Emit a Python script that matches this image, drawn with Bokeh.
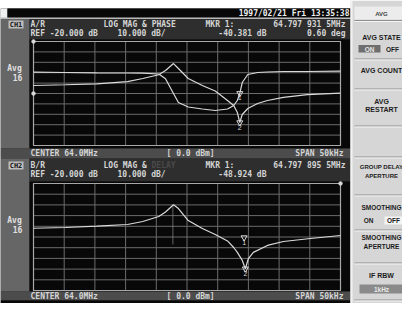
from bokeh.plotting import figure
from bokeh.models import Range1d, BoxAnnotation, Label
from bokeh.embed import file_html
from bokeh.resources import INLINE

# ---------------- data ----------------
CENTER_MHZ = 64.0
SPAN_MHZ = 0.05
REF_DB = -20.0
DB_PER_DIV = 10.0
DEG_PER_DIV = 45.0
N_DIV = 10

ch1_freq_mhz = [63.9750, 63.9802, 63.9853, 63.9903, 63.9928, 63.9954, 63.9965, 63.9978,
                63.9986, 64.0002, 64.0025, 64.0046, 64.0066, 64.0076, 64.0082, 64.0086,
                64.0090, 64.0099, 64.0115, 64.0131, 64.0157, 64.0196, 64.0250]
ch1_mag_db = [-12.3, -11.6, -10.7, -8.5, -5.6, -2.0, 2.1, 8.8, 4.0, -5.6, -12.3, -17.6,
              -26.7, -31.5, -38.3, -47.9, -40.2, -34.4, -29.6, -26.7, -23.8, -21.0, -19.7]
ch1_phase_deg = [92.2, 90.9, 89.6, 88.7, 88.3, 84.4, 63.6, 0.0, -38.9, -58.4, -67.1, -73.6,
                 -67.1, -51.9, -30.3, 0.6, 47.6, 82.2, 90.9, 93.0, 95.2, 95.2, 96.5]

ch2_freq_mhz = [63.9750, 63.9802, 63.9853, 63.9903, 63.9928, 63.9954, 63.9965, 63.9978,
                63.9986, 64.0002, 64.0025, 64.0046, 64.0066, 64.0076, 64.0082, 64.0090,
                64.0095, 64.0100, 64.0108, 64.0131, 64.0157, 64.0201, 64.0250]
ch2_mag_db = [-11.8, -11.1, -9.9, -8.3, -5.5, -0.8, 3.4, 10.1, 6.6, -4.6, -12.1, -17.7,
              -23.7, -29.8, -34.4, -41.9, -49.7, -40.1, -34.4, -27.9, -24.2, -21.4, -18.6]
ch2_aux_freq_mhz = [63.9977, 63.9977]
ch2_aux_db = [9.0, -27.0]

ch1_mkr_freq = [64.0086, 64.0086]
ch1_mkr_phase = [0.6]
ch1_mkr_mag = [-47.9]
ch2_mkr_freq = [64.0093, 64.0095]
ch2_mkr_db = [-20.5, -49.7]

date_text = "1997/02/21 Fri 13:35:38"
ch1_head = ["CH1", "A/R", "LOG MAG & PHASE", "MKR 1:", "64.797 931 5MHz"]
ch1_head2 = ["REF -20.000 dB", "10.000 dB/", "-40.381 dB", "0.60 deg"]
ch2_head = ["CH2", "B/R", "LOG MAG &", "MKR 1:", "64.797 895 5MHz"]
ch2_head2 = ["REF -20.000 dB", "10.000 dB/", "-48.924 dB"]
foot = ["CENTER 64.0MHz", "[ 0.0 dBm]", "SPAN 50kHz"]

# ---------------- page geometry (picture pixels) ----------------
W, H = 402, 303
X0, X1, PY0, PY1 = 0, 402, 0, 303


def Y(py):
    return PY1 - py


p = figure(width=W, height=H, x_range=Range1d(X0, X1), y_range=Range1d(PY0, PY1),
           toolbar_location=None, output_backend="svg", min_border=0,
           x_axis_location=None, y_axis_location=None,
           background_fill_color="#ffffff", border_fill_color="#ffffff",
           outline_line_color=None)
p.grid.visible = False

PLOT_L, PLOT_R = 33, 340
f0 = CENTER_MHZ - SPAN_MHZ / 2
f1 = CENTER_MHZ + SPAN_MHZ / 2
kx = (f1 - f0) / (PLOT_R - PLOT_L)
p.extra_x_ranges = {"f": Range1d(f0 - (PLOT_L - X0) * kx, f1 + (X1 - PLOT_R) * kx)}


def yr(py_top, py_bot, v_top, v_bot):
    k = (v_top - v_bot) / (py_bot - py_top)
    return Range1d(v_bot - (PY1 - py_bot) * k, v_top + (py_top - PY0) * k)


mag_top = REF_DB + 5 * DB_PER_DIV
mag_bot = REF_DB - 5 * DB_PER_DIV
ph_top = 5 * DEG_PER_DIV
ph_bot = -5 * DEG_PER_DIV
p.extra_y_ranges = {
    "m1": yr(41, 145, mag_top, mag_bot),
    "p1": yr(41, 145, ph_top, ph_bot),
    "m2": yr(183, 290, mag_top, mag_bot),
}


def box(l, r, t, b, color):
    p.add_layout(BoxAnnotation(left=l, right=r, top=Y(t), bottom=Y(b), fill_color=color,
                               fill_alpha=1, line_color=None, level="underlay"))


MONO = "DejaVu Sans Mono"
SANS = "Liberation Sans"
SCR = "#d4d4d4"
KEY = "#1c1c1c"


def txt(x, py, s, color=SCR, size="8px", align="left", font=MONO):
    p.add_layout(Label(x=x, y=Y(py), text=s, text_color=color, text_font_size=size,
                       text_align=align, text_baseline="middle", text_font=font,
                       text_font_style="bold"))


# screen panels
box(0, 350, 8, 303, "#1e1e1e")
box(0, 7, 8, 18, "#f0f0f0")
box(7, 350, 8, 17, "#080808")
box(0, 350, 17, 18.5, "#b8b8b8")
box(0, 29, 18.5, 148, "#666666")
box(29, 350, 18.5, 39, "#2e2e2e")
box(29, 350, 39, 148, "#080808")
box(0, 350, 148, 158, "#4c4c4c")
box(0, 29, 158, 291, "#666666")
box(29, 350, 158, 181, "#2e2e2e")
box(29, 350, 181, 291, "#080808")
box(0, 350, 291, 300, "#4c4c4c")
box(0, 350, 300, 303, "#080808")
box(8, 23, 20, 28, "#bdbdbd")
box(8, 23, 161, 169, "#bdbdbd")
# softkey panel
box(350, 402, 0, 303, "#d6d6d6")
box(350, 352, 0, 303, "#f2f2f2")
box(354, 402, 6, 19, "#ececec")
for sy in [19.5, 58, 88, 125, 156, 194, 229, 262, 299]:
    box(354, 402, sy, sy + 1, "#8e8e8e")
    box(354, 402, sy + 1, sy + 2, "#f4f4f4")
box(358, 380, 44.5, 52, "#6e6e6e")
box(384, 402, 216, 224, "#f4f4f4")
box(359, 402, 284, 293, "#8a8a8a")

# grids, frames and traces
GRID = "#6c6c6c"
xs_v = [f0 + i * SPAN_MHZ / N_DIV for i in range(N_DIV + 1)]
ys_h = [mag_bot + j * DB_PER_DIV for j in range(N_DIV + 1)]
for rn in ["m1", "m2"]:
    p.segment(x0=xs_v, x1=xs_v, y0=[mag_bot] * len(xs_v), y1=[mag_top] * len(xs_v),
              x_range_name="f", y_range_name=rn, line_color=GRID, line_width=1)
    p.segment(x0=[f0] * len(ys_h), x1=[f1] * len(ys_h), y0=ys_h, y1=ys_h,
              x_range_name="f", y_range_name=rn, line_color=GRID, line_width=1)
    p.quad(left=[f0], right=[f1], bottom=[mag_bot], top=[mag_top], fill_color=None,
           line_color="#a8a8a8", line_width=1.2, x_range_name="f", y_range_name=rn)

TR = "#dadada"
p.line(ch1_freq_mhz, ch1_mag_db, x_range_name="f", y_range_name="m1", line_color=TR, line_width=1.2)
p.line(ch1_freq_mhz, ch1_phase_deg, x_range_name="f", y_range_name="p1", line_color=TR, line_width=1.2)
p.line(ch2_freq_mhz, ch2_mag_db, x_range_name="f", y_range_name="m2", line_color=TR, line_width=1.2)
p.line(ch2_aux_freq_mhz, ch2_aux_db, x_range_name="f", y_range_name="m2", line_color="#8a8a8a",
       line_width=1, line_alpha=0.7)

# reference-position markers
p.scatter([f0], [mag_top], marker="circle", size=3.5, color=TR, x_range_name="f", y_range_name="m1")
p.scatter([f0], [0.0], marker="circle", size=3.5, color=TR, x_range_name="f", y_range_name="p1")
p.scatter([f1], [mag_top], marker="circle", size=3.5, color=TR, x_range_name="f", y_range_name="m2")

# markers
p.scatter(ch1_mkr_freq[:1], ch1_mkr_phase, marker="inverted_triangle", size=6, fill_color=None,
          line_color=TR, x_range_name="f", y_range_name="p1")
p.text(ch1_mkr_freq[:1], ch1_mkr_phase, text=["1"], text_color=TR, text_font_size="7px",
       text_align="center", text_baseline="top", y_offset=2, x_range_name="f", y_range_name="p1")
p.scatter(ch1_mkr_freq[1:], ch1_mkr_mag, marker="inverted_triangle", size=6, fill_color=None,
          line_color=TR, x_range_name="f", y_range_name="m1")
p.text(ch1_mkr_freq[1:], ch1_mkr_mag, text=["2"], text_color=TR, text_font_size="7px",
       text_align="center", text_baseline="top", y_offset=2, x_range_name="f", y_range_name="m1")
p.scatter(ch2_mkr_freq, ch2_mkr_db, marker="inverted_triangle", size=6, fill_color=None,
          line_color=TR, x_range_name="f", y_range_name="m2")
p.text(ch2_mkr_freq, ch2_mkr_db, text=["1", "2"], text_color=TR, text_font_size="7px",
       text_align="center", text_baseline="top", y_offset=2, x_range_name="f", y_range_name="m2")

# screen texts
txt(349, 12.5, date_text, color="#eeeeee", align="right")
for (hd, hd2, y1, y2) in [(ch1_head, ch1_head2, 24, 33), (ch2_head, ch2_head2, 165, 174)]:
    txt(15.5, y1, hd[0], color="#202020", size="7px", align="center")
    txt(30, y1, hd[1])
    txt(103, y1, hd[2])
    txt(205, y1, hd[3])
    txt(345, y1, hd[4], align="right")
    txt(30, y2, hd2[0])
    txt(117, y2, hd2[1])
    txt(266, y2, hd2[2], align="right")
    if len(hd2) > 3:
        txt(345, y2, hd2[3], align="right")
txt(151, 165, "DELAY", color="#4a4a4a")
for yf in [153, 296]:
    txt(30, yf, foot[0])
    txt(166, yf, foot[1])
    txt(343, yf, foot[2], align="right")
for ya in [68, 220]:
    txt(14, ya, "Avg", color="#e2e2e2", size="8px", align="center")
    txt(17, ya + 9, "16", color="#e2e2e2", size="8px", align="center")

# softkey texts
CX = 381
txt(CX, 13, "AVG", color="#444444", size="6px", font=SANS, align="center")
txt(CX, 37, "AVG STATE", color=KEY, size="7px", font=SANS, align="center")
txt(369, 48.5, "ON", color="#e8e8e8", size="6.5px", font=SANS, align="center")
txt(392, 48.5, "OFF", color=KEY, size="6.5px", font=SANS, align="center")
txt(CX, 70, "AVG COUNT", color=KEY, size="7px", font=SANS, align="center")
txt(CX, 101, "AVG", color=KEY, size="7px", font=SANS, align="center")
txt(CX, 109, "RESTART", color=KEY, size="7px", font=SANS, align="center")
txt(CX, 166, "GROUP DELAY", color=KEY, size="6px", font=SANS, align="center")
txt(CX, 175, "APERTURE", color=KEY, size="6px", font=SANS, align="center")
txt(CX, 207, "SMOOTHING", color=KEY, size="6.5px", font=SANS, align="center")
txt(368, 220, "ON", color=KEY, size="6.5px", font=SANS, align="center")
txt(393, 220, "OFF", color=KEY, size="6.5px", font=SANS, align="center")
txt(CX, 237, "SMOOTHING", color=KEY, size="6.5px", font=SANS, align="center")
txt(CX, 245.5, "APERTURE", color=KEY, size="6.5px", font=SANS, align="center")
txt(CX, 275, "IF RBW", color=KEY, size="7px", font=SANS, align="center")
txt(CX, 288.5, "1kHz", color="#e8e8e8", size="6.5px", font=SANS, align="center")

open("out.html", "w").write(file_html(p, INLINE))
